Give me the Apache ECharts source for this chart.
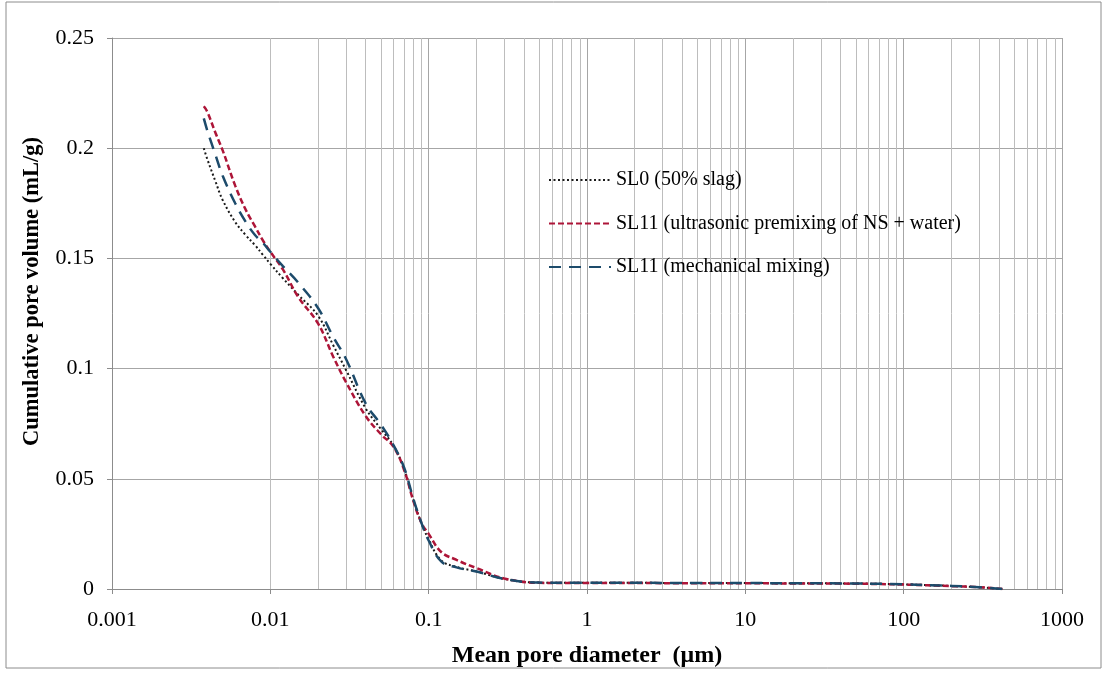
<!DOCTYPE html>
<html>
<head>
<meta charset="utf-8">
<script src="https://cdn.jsdelivr.net/npm/echarts@6/dist/echarts.min.js"></script>
<style>
  html, body { margin: 0; padding: 0; background: #fff; }
  #chart { width: 1108px; height: 674px; }
</style>
</head>
<body>
<div id="chart"></div>
<script>
// pore diameters (um), shared by all three curves
const diameters = [0.0038, 0.004, 0.0045, 0.005, 0.006, 0.007, 0.008, 0.009, 0.01, 0.012,
  0.015, 0.02, 0.025, 0.03, 0.04, 0.05, 0.06, 0.07, 0.08, 0.09, 0.1, 0.12, 0.15, 0.2, 0.3,
  0.5, 1, 2, 5, 10, 20, 50, 100, 200, 300, 420];

// cumulative pore volume (mL/g)
const sl0 = [0.200, 0.195, 0.185, 0.1765, 0.1665, 0.1605, 0.156, 0.1515, 0.1475, 0.141,
  0.1335, 0.124, 0.1105, 0.0995, 0.082, 0.0725, 0.065, 0.0545, 0.0405, 0.030, 0.0225,
  0.013, 0.010, 0.008, 0.0046, 0.0029, 0.0028, 0.0028, 0.0027, 0.0027, 0.0026, 0.0025,
  0.0021, 0.0014, 0.0008, 0];
const sl11Ultra = [0.219, 0.2165, 0.207, 0.199, 0.183, 0.172, 0.1645, 0.158, 0.153, 0.145,
  0.1325, 0.1205, 0.1053, 0.094, 0.0785, 0.0702, 0.0645, 0.054, 0.040, 0.030, 0.025,
  0.0168, 0.0132, 0.0095, 0.0048, 0.0028, 0.0027, 0.0027, 0.0026, 0.0026, 0.0025, 0.0024,
  0.002, 0.0013, 0.0008, 0];
const sl11Mech = [0.2135, 0.208, 0.197, 0.1875, 0.175, 0.1665, 0.1606, 0.157, 0.153, 0.1465,
  0.139, 0.1275, 0.1143, 0.1045, 0.0842, 0.0745, 0.0652, 0.055, 0.041, 0.030, 0.022,
  0.0125, 0.0098, 0.0079, 0.0046, 0.0029, 0.0028, 0.0028, 0.0027, 0.0027, 0.0026, 0.0025,
  0.0021, 0.0014, 0.0008, 0];

// minor vertical grid lines: 2..9 in every decade
const minorGrid = [];
[0.001, 0.01, 0.1, 1, 10, 100].forEach(d => {
  for (let k = 2; k <= 9; k++) minorGrid.push(+(d * k).toPrecision(3));
});

const font = "Liberation Serif";
const pairs = vals => diameters.map((d, i) => [d, vals[i]]);

const chart = echarts.init(document.getElementById("chart"));
chart.setOption({
  animation: false,
  textStyle: { fontFamily: font, color: "#000" },
  graphic: [{
    type: "rect",
    shape: { x: 6, y: 2, width: 1095, height: 666 },
    style: { fill: "none", stroke: "#8c8c8c", lineWidth: 1 },
    silent: true
  }],
  grid: { left: 112, right: 46, top: 38, bottom: 85 },
  legend: {
    orient: "vertical",
    left: 543,
    top: 165,
    itemWidth: 62,
    itemHeight: 14,
    itemGap: 23.5,
    itemTextGap: 8,
    itemStyle: { opacity: 0 },
    textStyle: { fontFamily: font, fontSize: 20, color: "#000" },
    data: ["SL0 (50% slag)", "SL11 (ultrasonic premixing of NS + water)", "SL11 (mechanical mixing)"]
  },
  xAxis: {
    type: "log",
    logBase: 10,
    min: 0.001,
    max: 1000,
    name: "Mean pore diameter  (μm)",
    nameLocation: "middle",
    nameGap: 55,
    nameTextStyle: { fontFamily: font, fontSize: 24, fontWeight: "bold", color: "#000" },
    axisLine: { lineStyle: { color: "#8c8c8c" } },
    axisTick: { show: true, length: 5, lineStyle: { color: "#8c8c8c" } },
    axisLabel: {
      fontFamily: font, fontSize: 22, color: "#000", margin: 20,
      formatter: v => String(v)
    },
    splitLine: { show: true, lineStyle: { color: "#a6a6a6", width: 1 } }
  },
  yAxis: {
    type: "value",
    min: 0,
    max: 0.25,
    interval: 0.05,
    name: "Cumulative pore volume (mL/g)",
    nameLocation: "middle",
    nameGap: 68,
    nameTextStyle: {
      fontFamily: font, fontSize: 22.5, fontWeight: "bold", color: "#000",
      padding: [0, 0, 0, 44]
    },
    axisLine: { show: true, lineStyle: { color: "#8c8c8c" } },
    axisTick: { show: true, length: 5, lineStyle: { color: "#8c8c8c" } },
    axisLabel: { fontFamily: font, fontSize: 22, color: "#000", margin: 18 },
    splitLine: { show: true, lineStyle: { color: "#a6a6a6", width: 1 } }
  },
  series: [
    {
      name: "SL0 (50% slag)",
      type: "line",
      data: pairs(sl0),
      smooth: 0.4,
      symbol: "none",
      z: 3,
      lineStyle: { color: "#1a1a1a", width: 2, type: [2, 2.5] },
      itemStyle: { color: "#1a1a1a" },
      markLine: {
        silent: true,
        symbol: "none",
        label: { show: false },
        lineStyle: { color: "#bdbdbd", width: 1, type: "solid" },
        data: minorGrid.map(v => ({ xAxis: v })),
        z: 1
      }
    },
    {
      name: "SL11 (ultrasonic premixing of NS + water)",
      type: "line",
      data: pairs(sl11Ultra),
      smooth: 0.4,
      symbol: "none",
      z: 4,
      lineStyle: { color: "#ad1538", width: 2.5, type: [6, 3] },
      itemStyle: { color: "#ad1538" }
    },
    {
      name: "SL11 (mechanical mixing)",
      type: "line",
      data: pairs(sl11Mech),
      smooth: 0.4,
      symbol: "none",
      z: 5,
      lineStyle: { color: "#1d4b6b", width: 2.5, type: [12, 8] },
      itemStyle: { color: "#1d4b6b" }
    }
  ]
});
</script>
</body>
</html>
